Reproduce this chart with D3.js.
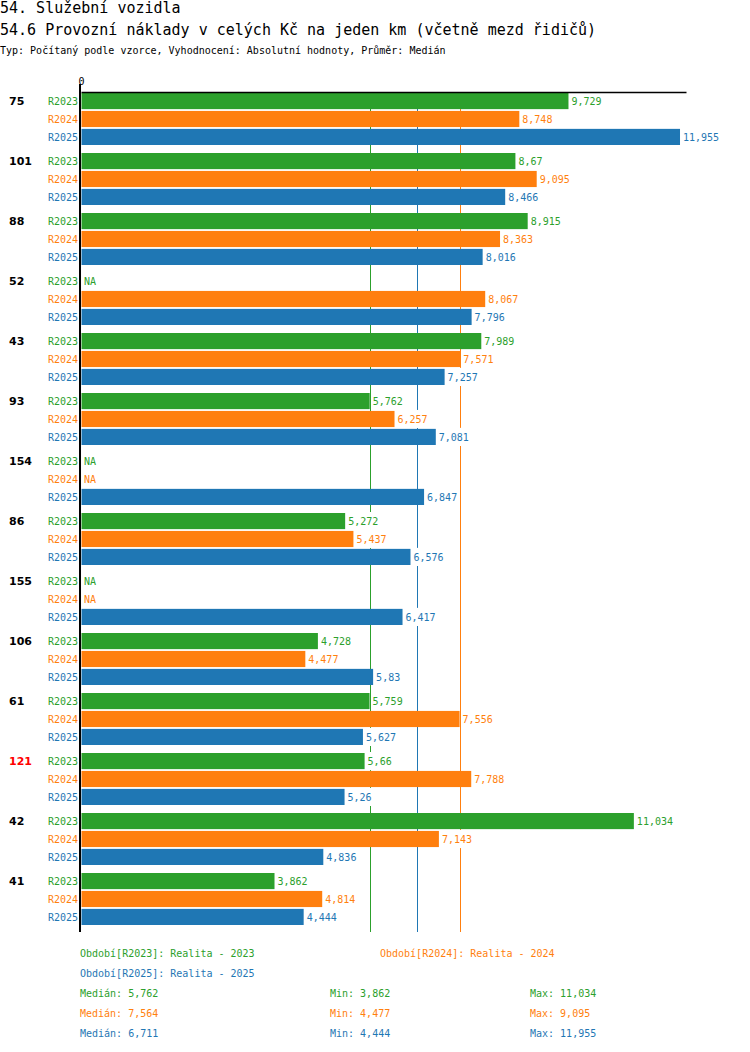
<!DOCTYPE html>
<html><head><meta charset="utf-8">
<script src="https://cdn.jsdelivr.net/npm/d3@7"></script>
<style>body{margin:0;background:#fff}svg{display:block}text{font-family:"DejaVu Sans Mono",monospace}</style>
</head><body>
<svg id="c" width="750" height="1052"></svg>
<script>
const categories = ["75","101","88","52","43","93","154","86","155","106","61","121","42","41"];
const highlighted = ["121"];
const seriesNames = ["R2023","R2024","R2025"];
const seriesColors = ["#2ca02c","#ff7f0e","#1f77b4"];
const r2023 = [9.729,8.67,8.915,null,7.989,5.762,null,5.272,null,4.728,5.759,5.66,11.034,3.862];
const r2024 = [8.748,9.095,8.363,8.067,7.571,6.257,null,5.437,null,4.477,7.556,7.788,7.143,4.814];
const r2025 = [11.955,8.466,8.016,7.796,7.257,7.081,6.847,6.576,6.417,5.83,5.627,5.26,4.836,4.444];
const medians = [5.762,7.564,6.711];
const mins = [3.862,4.477,4.444];
const maxs = [11.034,9.095,11.955];
const legendTexts = ["Období[R2023]: Realita - 2023","Období[R2024]: Realita - 2024","Období[R2025]: Realita - 2025"];
const title1 = "54. Služební vozidla";
const title2 = "54.6 Provozní náklady v celých Kč na jeden km (včetně mezd řidičů)";
const subtitle = "Typ: Počítaný podle vzorce, Vyhodnocení: Absolutní hodnoty, Průměr: Medián";

const series = [r2023, r2024, r2025];
const fmt = v => String(v).replace(".", ",");
const svg = d3.select("#c");

svg.append("text").attr("x",0).attr("y",13).attr("font-size",15).text(title1);
svg.append("text").attr("x",0).attr("y",35).attr("font-size",15).text(title2);
svg.append("text").attr("x",0).attr("y",54).attr("font-size",10).text(subtitle);

const plotLeft = 81, plotTop = 92, groupH = 60;
const allMax = d3.max(series.flat());
const x = d3.scaleLinear().domain([0, allMax*1.01]).range([plotLeft, 686]);
const y = d3.scaleBand().domain(categories).range([plotTop, plotTop + groupH*categories.length]);
const yIn = d3.scaleBand().domain(seriesNames).range([0, 52]).paddingInner(0.1);
const plotBottom = plotTop + groupH*categories.length;

// median lines
medians.forEach((m,i)=>{
  svg.append("line").attr("x1",Math.round(x(m))+0.5).attr("x2",Math.round(x(m))+0.5).attr("y1",plotTop).attr("y2",plotBottom)
    .attr("stroke",seriesColors[i]).attr("stroke-width",1);
});

const g = svg.selectAll("g.grp").data(categories).join("g").attr("class","grp")
  .attr("transform",d=>`translate(0,${y(d)+1})`);

g.append("text").attr("x",9).attr("y",yIn("R2023")+yIn.bandwidth()/2+4)
  .attr("font-weight","bold").attr("font-size",11)
  .style("font-family","DejaVu Sans")
  .attr("fill",d=>highlighted.includes(d)?"#ff0000":"#000").text(d=>d);

seriesNames.forEach((s,si)=>{
  g.append("text").attr("x",78).attr("y",yIn(s)+yIn.bandwidth()/2+4).attr("text-anchor","end")
    .attr("font-size",10).attr("fill",seriesColors[si]).text(s);
  g.each(function(d,ci){
    const v = series[si][ci];
    const sel = d3.select(this);
    if (v == null) {
      sel.append("text").attr("x",x(0)+3).attr("y",yIn(s)+yIn.bandwidth()/2+4)
        .attr("font-size",10).attr("fill",seriesColors[si]).text("NA");
    } else {
      sel.append("rect").attr("x",x(0)+0.5).attr("y",yIn(s)).attr("width",x(v)-x(0)-0.5)
        .attr("height",yIn.bandwidth()).attr("fill",seriesColors[si]);
      const bg = sel.append("rect").attr("fill","#fff");
      const t = sel.append("text").attr("x",x(v)+3).attr("y",yIn(s)+yIn.bandwidth()/2+4)
        .attr("font-size",10).attr("fill",seriesColors[si]).text(fmt(v));
      const bb = t.node().getBBox();
      bg.attr("x",bb.x-1).attr("y",yIn(s)-1).attr("width",bb.width+2).attr("height",yIn.bandwidth()+2);
    }
  });
});

// axes
const xAxis = d3.axisTop(x).tickValues([0]).tickSize(0).tickFormat(d=>d);
const ax = svg.append("g").attr("transform",`translate(0,${plotTop})`).call(xAxis);
ax.select(".domain").attr("stroke","#000").attr("stroke-width",1.5);
ax.selectAll("text").attr("font-size",10).attr("dy","-0.4em").style("font-family","DejaVu Sans Mono");
svg.append("line").attr("x1",plotLeft-1).attr("x2",plotLeft-1).attr("y1",plotTop-8).attr("y2",plotBottom)
  .attr("stroke","#000").attr("stroke-width",2);

// legend
const lg = svg.append("g").attr("font-size",10);
lg.append("text").attr("x",80).attr("y",957).attr("fill",seriesColors[0]).text(legendTexts[0]);
lg.append("text").attr("x",380).attr("y",957).attr("fill",seriesColors[1]).text(legendTexts[1]);
lg.append("text").attr("x",80).attr("y",977).attr("fill",seriesColors[2]).text(legendTexts[2]);
seriesNames.forEach((s,i)=>{
  const yy = 997 + i*20;
  lg.append("text").attr("x",80).attr("y",yy).attr("fill",seriesColors[i]).text("Medián: "+fmt(medians[i]));
  lg.append("text").attr("x",330).attr("y",yy).attr("fill",seriesColors[i]).text("Min: "+fmt(mins[i]));
  lg.append("text").attr("x",530).attr("y",yy).attr("fill",seriesColors[i]).text("Max: "+fmt(maxs[i]));
});
</script>
</body></html>
